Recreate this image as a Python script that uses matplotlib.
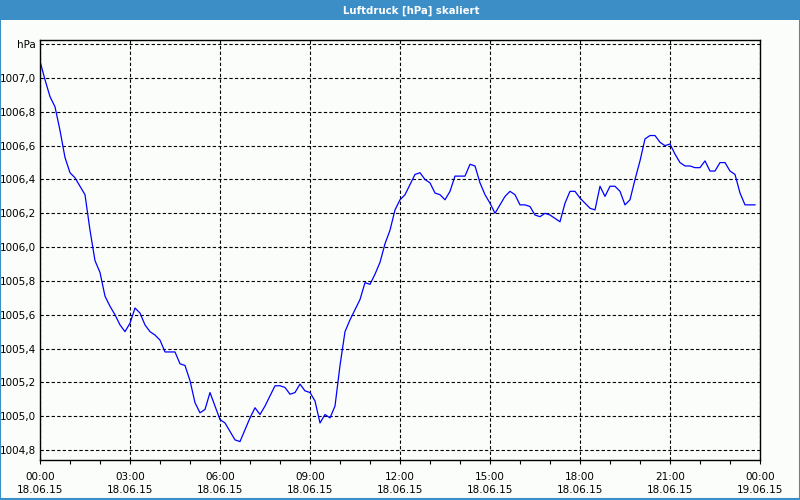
#Importing Libraries
import numpy as np
import matplotlib
matplotlib.use("Agg")
import matplotlib.pyplot as plt
from matplotlib.patches import Rectangle
from matplotlib.ticker import MultipleLocator, FuncFormatter

#Data - air pressure every 10 minutes, 18.06.15 00:00 .. 23:50
pressure = [
    1007.10, 1006.99, 1006.89, 1006.83, 1006.69, 1006.53, 1006.44, 1006.41, 1006.36, 1006.31,
    1006.10, 1005.92, 1005.85, 1005.71, 1005.65, 1005.60, 1005.54, 1005.50, 1005.55, 1005.64,
    1005.61, 1005.54, 1005.50, 1005.48, 1005.45, 1005.38, 1005.38, 1005.38, 1005.31, 1005.30,
    1005.21, 1005.08, 1005.02, 1005.04, 1005.14, 1005.06, 1004.98, 1004.96, 1004.91, 1004.86,
    1004.85, 1004.92, 1004.99, 1005.05, 1005.01, 1005.06, 1005.12, 1005.18, 1005.18, 1005.17,
    1005.13, 1005.14, 1005.19, 1005.15, 1005.14, 1005.09, 1004.96, 1005.01, 1004.99, 1005.06,
    1005.30, 1005.50, 1005.57, 1005.63, 1005.69, 1005.79, 1005.78, 1005.84, 1005.91, 1006.02,
    1006.10, 1006.22, 1006.28, 1006.31, 1006.37, 1006.43, 1006.44, 1006.40, 1006.38, 1006.32,
    1006.31, 1006.28, 1006.33, 1006.42, 1006.42, 1006.42, 1006.49, 1006.48, 1006.38, 1006.31,
    1006.26, 1006.20, 1006.25, 1006.30, 1006.33, 1006.31, 1006.25, 1006.25, 1006.24, 1006.19,
    1006.18, 1006.20, 1006.19, 1006.17, 1006.15, 1006.26, 1006.33, 1006.33, 1006.29, 1006.26,
    1006.23, 1006.22, 1006.36, 1006.30, 1006.36, 1006.36, 1006.33, 1006.25, 1006.28, 1006.40,
    1006.51, 1006.64, 1006.66, 1006.66, 1006.62, 1006.60, 1006.61, 1006.55, 1006.50, 1006.48,
    1006.48, 1006.47, 1006.47, 1006.51, 1006.45, 1006.45, 1006.50, 1006.50, 1006.45, 1006.43,
    1006.32, 1006.25, 1006.25, 1006.25,
]
step_minutes = 10
hours = np.arange(len(pressure)) * step_minutes / 60.0

#Tick labels
x_ticks = [0, 3, 6, 9, 12, 15, 18, 21, 24]
x_labels = ["00:00\n18.06.15", "03:00\n18.06.15", "06:00\n18.06.15", "09:00\n18.06.15",
            "12:00\n18.06.15", "15:00\n18.06.15", "18:00\n18.06.15", "21:00\n18.06.15",
            "00:00\n19.06.15"]
y_min, y_max = 1004.741, 1007.225
title = "Luftdruck [hPa] skaliert"

#Figure
fig = plt.figure(figsize=(8, 5), dpi=100, facecolor="#FBFDFB")
blue = "#3C8FC6"

# title bar + frame
fig.patches.append(Rectangle((0, 0.96), 1, 0.04, transform=fig.transFigure,
                             facecolor=blue, edgecolor="none", zorder=0))
fig.patches.append(Rectangle((0.0006, 0.002), 0.9988, 0.996, transform=fig.transFigure,
                             facecolor="none", edgecolor=blue, linewidth=1.5, zorder=0))
fig.text(0.514, 0.979, title, color="white", fontsize=7.3, fontweight="bold",
         ha="center", va="center", family="DejaVu Sans")

ax = fig.add_axes([0.05, 0.08, 0.90, 0.84])
ax.set_facecolor("#FBFDFB")
ax.plot(hours, pressure, color="#0000FF", linewidth=0.9)

ax.set_xlim(0, 24)
ax.set_ylim(y_min, y_max)

ax.set_xticks(x_ticks)
ax.set_xticklabels(x_labels, linespacing=1.35)
ax.xaxis.set_minor_locator(MultipleLocator(1))
ax.tick_params(axis="x", which="both", direction="out", length=3, width=0.8,
               labelsize=7.5, pad=6)

y_ticks = np.round(np.arange(1004.8, 1007.21, 0.2), 1)
ax.set_yticks(y_ticks)
ax.yaxis.set_major_formatter(FuncFormatter(
    lambda v, p: "hPa" if abs(v - 1007.2) < 0.01 else f"{v:.1f}".replace(".", ",")))
ax.tick_params(axis="y", length=0, labelsize=7.5, pad=3)

ax.grid(True, which="major", color="black", linestyle=(0, (3, 2)), linewidth=0.8)
for s in ax.spines.values():
    s.set_color("black")
    s.set_linewidth(1)

plt.savefig("out.png", dpi=100, facecolor=fig.get_facecolor())
